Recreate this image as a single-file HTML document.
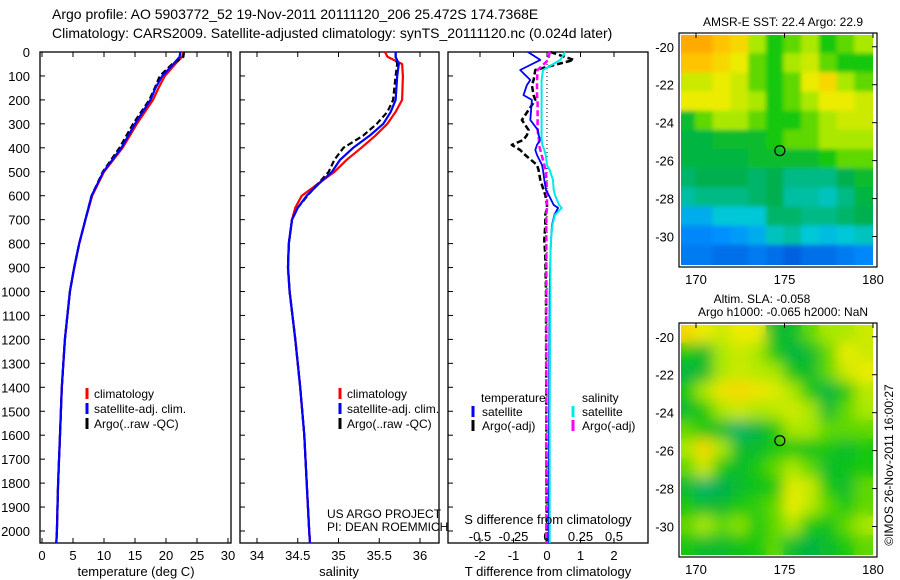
<!DOCTYPE html>
<html><head><meta charset="utf-8"><style>
html,body{margin:0;padding:0;background:#fff;}
svg{display:block;font-family:"Liberation Sans",sans-serif;}
</style></head><body>
<svg id="chart" width="900" height="580" viewBox="0 0 900 580" xmlns="http://www.w3.org/2000/svg">
<defs>
<filter id="blurS" x="-5%" y="-5%" width="110%" height="110%"><feGaussianBlur stdDeviation="2"/></filter>
<filter id="blurL" x="-5%" y="-5%" width="110%" height="110%"><feGaussianBlur stdDeviation="7"/></filter>
<clipPath id="clipTop"><rect x="681" y="35" width="192" height="230"/></clipPath>
<clipPath id="clipBot"><rect x="681" y="325" width="192" height="230"/></clipPath>
</defs>
<text x="52" y="19" font-size="14">Argo profile: AO 5903772_52 19-Nov-2011 20111120_206 25.472S 174.7368E</text>
<text x="52" y="38" font-size="14">Climatology: CARS2009. Satellite-adjusted climatology: synTS_20111120.nc (0.024d later)</text>
</svg>
<script>
// ---------- data ----------
const depthTicks = [0,100,200,300,400,500,600,700,800,900,1000,1100,1200,1300,1400,1500,1600,1700,1800,1900,2000];
const tDepth = [0,20,50,100,150,200,300,400,500,600,700,800,900,1000,1200,1400,1600,1800,2000,2050];
const tArgo = [22.9,22.8,21.0,19.0,18.2,17.3,14.7,12.5,9.8,8.0,7.0,6.0,5.2,4.5,3.7,3.2,2.9,2.6,2.4,2.3];
const tClim = [22.8,22.6,21.5,19.8,18.8,17.9,15.3,13.0,10.0,8.1,7.0,6.0,5.2,4.5,3.7,3.2,2.9,2.6,2.4,2.3];
const tSat  = [22.3,22.2,21.2,19.4,18.3,17.5,15.0,12.8,9.9,8.0,7.0,6.0,5.2,4.5,3.7,3.2,2.9,2.6,2.4,2.3];
const sDepth = [0,20,50,100,200,250,300,350,400,450,500,550,600,650,700,800,900,1000,1200,1400,1600,1800,2000,2050];
const sArgo = [35.70,35.70,35.72,35.70,35.67,35.60,35.47,35.30,35.06,34.95,34.88,34.75,34.62,34.50,34.43,34.39,34.38,34.40,34.47,34.53,34.58,34.61,34.64,34.65];
const sClim = [35.57,35.60,35.78,35.79,35.78,35.70,35.60,35.45,35.28,35.10,34.95,34.75,34.55,34.47,34.43,34.39,34.38,34.40,34.47,34.53,34.58,34.61,34.64,34.65];
const sSat  = [35.70,35.70,35.74,35.72,35.70,35.64,35.55,35.38,35.18,35.02,34.92,34.76,34.61,34.50,34.43,34.39,34.38,34.40,34.47,34.53,34.58,34.61,34.64,34.65];
const dDepth = [0,33,75,117,138,180,200,284,326,347,367,388,409,430,472,493,534,576,597,639,651,680,722,785,850,1000,1500,2050];
const dTSat  = [-0.57,-0.2,-0.8,-0.5,-0.6,-0.7,-0.45,-0.5,-0.27,-0.25,-0.2,-0.3,-0.35,-0.3,-0.15,-0.12,-0.08,-0.03,0.05,0.2,0.33,0.22,0.15,0.12,0.1,0.08,0.06,0.05];
const dTArgo = [0.1,0.8,-0.35,-0.4,-0.45,-0.4,-0.35,-0.75,-0.55,-0.6,-0.7,-1.05,-0.8,-0.65,-0.3,-0.25,-0.2,-0.1,-0.05,0,0,-0.05,-0.05,-0.08,-0.05,-0.03,-0.02,-0.01];
const dSSat  = [0.135,0.1,-0.03,-0.04,-0.04,-0.04,-0.04,-0.04,-0.04,-0.04,-0.04,-0.035,-0.02,-0.01,0.0,0.02,0.045,0.05,0.06,0.09,0.11,0.06,0.04,0.03,0.025,0.025,0.02,0.02];
const dSArgo = [0.02,0.01,-0.07,-0.075,-0.075,-0.075,-0.07,-0.07,-0.07,-0.065,-0.06,-0.06,-0.05,-0.04,-0.02,-0.01,-0.005,0,0,0,0,-0.005,-0.005,-0.005,-0.005,-0.005,-0.005,-0.005];
const tTicks = [0,5,10,15,20,25,30];
const sTicks = [34,34.5,35,35.5,36];
const sTickLabels = ["34","34.5","35","35.5","36"];
const dTTicks = [-2,-1,0,1,2];
const dSTicks = [-0.5,-0.25,0,0.25,0.5];
const lonTicks = [170,175,180];
const latTicks = [-20,-22,-24,-26,-28,-30];
const latLabels = ["-20","-22","-24","-26","-28","-30"];
const sstGrid = [
[0.85,0.85,0.8,0.75,0.6,0.5,0.55,0.6,0.5,0.55,0.6],
[0.8,0.8,0.75,0.7,0.55,0.5,0.6,0.65,0.55,0.5,0.5],
[0.65,0.65,0.7,0.65,0.55,0.5,0.55,0.7,0.75,0.6,0.55],
[0.7,0.7,0.7,0.65,0.6,0.5,0.55,0.6,0.7,0.7,0.65],
[0.45,0.55,0.6,0.6,0.55,0.5,0.5,0.55,0.6,0.65,0.65],
[0.42,0.42,0.45,0.45,0.45,0.5,0.55,0.55,0.6,0.6,0.6],
[0.42,0.42,0.42,0.42,0.45,0.45,0.45,0.45,0.5,0.55,0.55],
[0.38,0.4,0.4,0.4,0.38,0.4,0.36,0.36,0.36,0.4,0.45],
[0.34,0.36,0.36,0.36,0.38,0.4,0.34,0.34,0.32,0.36,0.42],
[0.25,0.25,0.3,0.3,0.3,0.38,0.38,0.36,0.36,0.38,0.4],
[0.18,0.18,0.2,0.22,0.25,0.32,0.34,0.3,0.28,0.3,0.32],
[0.15,0.15,0.12,0.12,0.15,0.12,0.08,0.12,0.12,0.15,0.18]];
const slaGrid = [
[0.75,0.7,0.65,0.7,0.7,0.45,0.45,0.55,0.6,0.6,0.65],
[0.5,0.45,0.6,0.65,0.6,0.5,0.42,0.45,0.55,0.7,0.65],
[0.42,0.45,0.6,0.65,0.62,0.6,0.48,0.45,0.55,0.65,0.7],
[0.5,0.6,0.72,0.75,0.72,0.68,0.6,0.5,0.42,0.5,0.62],
[0.45,0.5,0.6,0.65,0.6,0.62,0.66,0.6,0.45,0.55,0.6],
[0.55,0.5,0.45,0.38,0.42,0.5,0.6,0.6,0.55,0.55,0.55],
[0.6,0.75,0.6,0.45,0.45,0.5,0.5,0.48,0.5,0.45,0.5],
[0.55,0.65,0.5,0.45,0.5,0.55,0.6,0.55,0.45,0.48,0.5],
[0.45,0.38,0.4,0.45,0.48,0.5,0.68,0.65,0.5,0.45,0.55],
[0.5,0.45,0.45,0.5,0.52,0.55,0.7,0.62,0.55,0.5,0.55],
[0.55,0.6,0.55,0.58,0.5,0.55,0.6,0.5,0.48,0.55,0.6],
[0.5,0.45,0.45,0.48,0.5,0.55,0.45,0.42,0.45,0.5,0.55]];
const floatLon = 174.7368, floatLat = -25.472;

// ---------- helpers ----------
const NS="http://www.w3.org/2000/svg";
const svg=document.getElementById('chart');
function mk(tag,attrs,parent){const e=document.createElementNS(NS,tag);for(const k in attrs)e.setAttribute(k,attrs[k]);(parent||svg).appendChild(e);return e;}
function txt(s,x,y,size,anchor,parent){const e=mk('text',{x:x,y:y,'font-size':size,'text-anchor':anchor||'start'},parent);e.textContent=s;return e;}
const Y=d=>52+d*0.2395;
const PB=543;
function panelFrame(x0,x1,name){const r=mk('rect',{x:x0,y:52,width:x1-x0,height:PB-52,fill:'none',stroke:'#000','stroke-width':1.3});


depthTicks.forEach(d=>{mk('line',{x1:x0,x2:x0+5,y1:Y(d),y2:Y(d),stroke:'#000'});});}
function line(xs,ds,X,color,w,dash,name){const p=mk('polyline',{points:xs.map((v,i)=>X(v).toFixed(1)+','+Y(ds[i]).toFixed(1)).join(' '),fill:'none',stroke:color,'stroke-width':w,'stroke-linejoin':'round'});
if(dash)p.setAttribute('stroke-dasharray',dash);

}

depthTicks.forEach(d=>{const t=txt(String(d),30,Y(d)+5,13,'end');

});

// panel 1
const XT=v=>42+v*6.2;
panelFrame(40,231,'temperature-panel');
tTicks.forEach(v=>{mk('line',{x1:XT(v),x2:XT(v),y1:52,y2:57,stroke:'#000'});mk('line',{x1:XT(v),x2:XT(v),y1:PB,y2:PB-5,stroke:'#000'});
const t=txt(String(v),XT(v),560,13,'middle');

});
line(tClim,tDepth,XT,'#ff0000',2.2,null,'temperature-climatology-line');
line(tArgo,tDepth,XT,'#000',2.2,'6 3','temperature-argo-line');
line(tSat,tDepth,XT,'#0000ff',2.2,null,'temperature-satellite-line');
const tx1=txt('temperature (deg C)',136,576,13,'middle');



// panel 2
const XS=v=>257+(v-34)*81.5;
panelFrame(240,439,'salinity-panel');
sTicks.forEach((v,i)=>{mk('line',{x1:XS(v),x2:XS(v),y1:52,y2:57,stroke:'#000'});mk('line',{x1:XS(v),x2:XS(v),y1:PB,y2:PB-5,stroke:'#000'});
const t=txt(sTickLabels[i],XS(v),560,13,'middle');

});
line(sClim,sDepth,XS,'#ff0000',2.2,null,'salinity-climatology-line');
line(sArgo,sDepth,XS,'#000',2.2,'6 3','salinity-argo-line');
line(sSat,sDepth,XS,'#0000ff',2.2,null,'salinity-satellite-line');
const tx2=txt('salinity',339,576,13,'middle');


const pr1=txt('US ARGO PROJECT',327,518,12);


const pr2=txt('PI: DEAN ROEMMICH',327,531,12);



[[84,'p1'],[337,'p2']].forEach(([lx,k])=>{
 [['climatology','#ff0000'],['satellite-adj. clim.','#0000ff'],['Argo(..raw -QC)','#000']].forEach((e,i)=>{
  const y=398+i*15;
  const m=mk('line',{x1:lx+3,x2:lx+3,y1:y-10,y2:y+1,stroke:e[1],'stroke-width':3});
  
  
  const t=txt(e[0],lx+10,y,12);
  
  
 });});

// panel 3
const XD=v=>547+v*33.5;
const XDS=v=>547+v*134;
panelFrame(448,648,'difference-panel');
dTTicks.forEach(v=>{mk('line',{x1:XD(v),x2:XD(v),y1:52,y2:57,stroke:'#000'});mk('line',{x1:XD(v),x2:XD(v),y1:PB,y2:PB-5,stroke:'#000'});
const t=txt(String(v),XD(v),560,13,'middle');

});
dSTicks.forEach(v=>{const t=txt(String(v),XDS(v),541,13,'middle');

});
const zl=mk('line',{x1:XD(0),x2:XD(0),y1:52,y2:PB,stroke:'#000','stroke-dasharray':'1 3'});


line(dTArgo,dDepth,XD,'#000',2.5,'6 3','t-diff-argo-line');
line(dSArgo,dDepth,XDS,'#ff00ff',2.5,'6 3','s-diff-argo-line');
line(dTSat,dDepth,XD,'#0000ff',1.8,null,'t-diff-satellite-line');
line(dSSat,dDepth,XDS,'#00e8e8',2,null,'s-diff-satellite-line');
const sdt=txt('S difference from climatology',548,524,13,'middle');


const tdt=txt('T difference from climatology',548,576,13,'middle');


const lgT=txt('temperature',481,402,12);


const lgS=txt('salinity',582,402,12);


[[473,'satellite','#0000ff',0],[473,'Argo(-adj)','#000',1],[573,'satellite','#00e8e8',0],[573,'Argo(-adj)','#ff00ff',1]].forEach(e=>{
 const y=416+e[3]*14;
 const m=mk('line',{x1:e[0],x2:e[0],y1:y-10,y2:y+1,stroke:e[2],'stroke-width':3});
 
 
 const t=txt(e[1],e[0]+9,y,12);
 
 
});

// ---------- maps ----------
const stops=[[0,[0,64,200]],[0.2,[0,144,255]],[0.3,[0,200,216]],[0.4,[0,176,80]],[0.5,[20,200,10]],[0.6,[170,232,0]],[0.7,[236,236,0]],[0.8,[255,196,0]],[0.9,[255,144,0]],[1,[230,80,0]]];
function cmap(v){for(let i=0;i<stops.length-1;i++){const a=stops[i],b=stops[i+1];if(v<=b[0]){const f=(v-a[0])/(b[0]-a[0]);const c=a[1].map((x,j)=>Math.round(x+(b[1][j]-x)*f));return 'rgb('+c.join(',')+')';}}return 'rgb(230,80,0)';}
function drawMap(grid,top,bot,clip,blur,name){
 const X=lon=>679+(lon-169.04)*17.7;
 const Yl=lat=>top+(-19.38-lat)*((bot-top)/12.12);
 const g1=mk('g',{'clip-path':'url(#'+clip+')'});
 
 
 const g2=mk('g',{'clip-path':'url(#'+clip+')'});
 const g3=mk('g',{filter:'url(#'+blur+')'},g2);
 grid.forEach((row,r)=>row.forEach((v,c)=>{
  const lon0=169+c, lat0=-19.38-r*1.01;
  [g1,g3].forEach(g=>{const rc=mk('rect',{x:X(lon0)-1,y:Yl(lat0)-1,width:19.7,height:21.3,fill:cmap(v)},g);
  
  });
 }));
 const fr=mk('rect',{x:679,y:top-2,width:198,height:bot-top+4,fill:'none',stroke:'#000','stroke-width':1.2});
 
 
 lonTicks.forEach(l=>{mk('line',{x1:X(l),x2:X(l),y1:top-2,y2:top+3,stroke:'#000'});
  const t=txt(String(l),X(l),bot+19,13,'middle');
  
  });
 latTicks.forEach((l,i)=>{mk('line',{x1:872,x2:877,y1:Yl(l),y2:Yl(l),stroke:'#000'});
  const t=txt(latLabels[i],674,Yl(l)+5,13,'end');
  
  });
 const c=mk('circle',{cx:X(floatLon),cy:Yl(floatLat),r:5,fill:'none',stroke:'#000','stroke-width':1.2});
 
 
}
drawMap(sstGrid,35,265,'clipTop','blurS','sst-map');
drawMap(slaGrid,325,555,'clipBot','blurL','sla-map');
const mt1=txt('AMSR-E SST: 22.4 Argo: 22.9',783,26,12,'middle');


const mt2=txt('Altim. SLA: -0.058',762,303,12,'middle');


const mt3=txt('Argo h1000: -0.065 h2000: NaN',783,316,12,'middle');


const cr=txt('©IMOS 26-Nov-2011 16:00:27',0,0,12,'middle');
cr.setAttribute('transform','translate(893,465) rotate(-90)');


</script>
</body></html>
